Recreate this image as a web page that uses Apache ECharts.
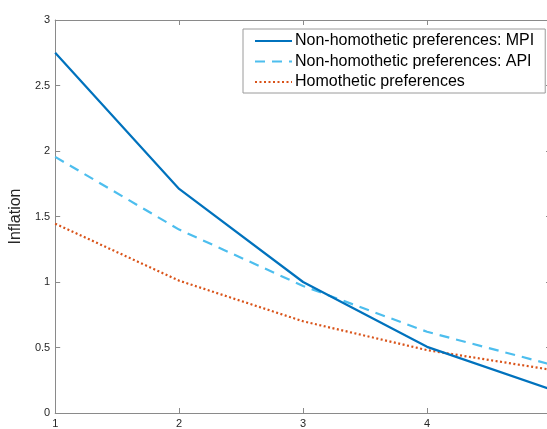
<!DOCTYPE html>
<html>
<head>
<meta charset="utf-8">
<script src="https://cdn.jsdelivr.net/npm/echarts@6/dist/echarts.min.js"></script>
<style>html,body{margin:0;padding:0;background:#fff;overflow:hidden;}#c{width:551px;height:429px;}</style>
</head>
<body>
<div id="c"></div>
<script>
const xValues = [1, 2, 3, 4, 5];
const mpi = [2.75, 1.71, 1.0, 0.505, 0.18];
const api = [1.955, 1.40, 0.97, 0.62, 0.37];
const homothetic = [1.445, 1.01, 0.70, 0.48, 0.33];
const seriesNames = ['Non-homothetic preferences: MPI', 'Non-homothetic preferences: API', 'Homothetic preferences'];
const xTickLabels = [1, 2, 3, 4];
const yTicks = [0, 0.5, 1, 1.5, 2, 2.5, 3];

const pairs = arr => xValues.map((x, i) => [x, arr[i]]);
const axisGray = '#8a8a8a';
const textCol = '#262626';
const font = 'Helvetica, "Liberation Sans", Arial, sans-serif';

const chart = echarts.init(document.getElementById('c'), null, {renderer: 'canvas'});
chart.setOption({
  animation: false,
  grid: {left: 52, top: 20, right: 0, bottom: 15, containLabel: false},
  xAxis: [{
    type: 'value', min: 1, max: 5, interval: 1, position: 'bottom',
    axisLine: {show: true, lineStyle: {color: axisGray, width: 1}},
    axisTick: {show: true, inside: true, length: 5, lineStyle: {color: axisGray}, customValues: xTickLabels},
    axisLabel: {color: textCol, fontSize: 11, fontFamily: font, margin: 5, customValues: xTickLabels},
    splitLine: {show: false}
  }, {
    type: 'value', min: 1, max: 5, interval: 1, position: 'top',
    axisLine: {show: true, onZero: false, lineStyle: {color: axisGray, width: 1}},
    axisTick: {show: true, inside: true, length: 5, lineStyle: {color: axisGray}},
    axisLabel: {show: false},
    splitLine: {show: false}
  }],
  yAxis: [{
    type: 'value', min: 0, max: 3, interval: 0.5, position: 'left',
    name: 'Inflation', nameLocation: 'middle', nameGap: 26,
    nameTextStyle: {color: textCol, fontSize: 16, fontFamily: font},
    axisLine: {show: true, lineStyle: {color: axisGray, width: 1}},
    axisTick: {show: true, inside: true, length: 5, lineStyle: {color: axisGray}},
    axisLabel: {color: textCol, fontSize: 11, fontFamily: font, margin: 5},
    splitLine: {show: false}
  }, {
    type: 'value', min: 0, max: 3, interval: 0.5, position: 'right',
    axisLine: {show: true, onZero: false, lineStyle: {color: axisGray, width: 1}},
    axisTick: {show: true, inside: true, length: 5, lineStyle: {color: axisGray}},
    axisLabel: {show: false},
    splitLine: {show: false}
  }],
  legend: {
    orient: 'vertical', left: 243, top: 29,
    padding: [4, 11, 3, 11],
    itemGap: 4.5, itemWidth: 37, itemHeight: 16,
    backgroundColor: '#fff',
    borderColor: '#9a9a9a', borderWidth: 1, borderRadius: 0,
    itemStyle: {opacity: 0},
    textStyle: {color: '#000', fontSize: 16, fontFamily: font, padding: [0, 0, 0, -2]},
    data: seriesNames
  },
  series: [{
    name: seriesNames[0], type: 'line', data: pairs(mpi), showSymbol: false, symbol: 'none',
    lineStyle: {color: '#0072BD', width: 2.2, type: 'solid'}, itemStyle: {color: '#0072BD'}, z: 3
  }, {
    name: seriesNames[1], type: 'line', data: pairs(api), showSymbol: false, symbol: 'none',
    lineStyle: {color: '#4DBEEE', width: 2.2, type: [10, 7]}, itemStyle: {color: '#4DBEEE'}, z: 2
  }, {
    name: seriesNames[2], type: 'line', data: pairs(homothetic), showSymbol: false, symbol: 'none',
    lineStyle: {color: '#D95319', width: 2.2, type: [2, 2.5]}, itemStyle: {color: '#D95319'}, z: 1
  }]
});
</script>
</body>
</html>
